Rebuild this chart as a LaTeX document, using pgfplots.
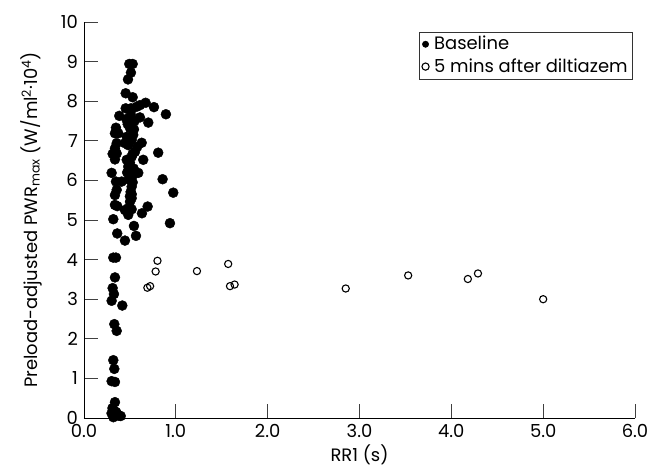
\documentclass[border=0pt]{standalone}
\usepackage{fontspec}
\setmainfont{Poppins}
\usepackage{pgfplots}
\pgfplotsset{compat=1.18}

\pgfplotstableread{
x y
0.493 8.94
0.530 8.94
0.511 8.72
0.479 8.55
0.454 8.20
0.530 8.10
0.671 7.96
0.762 7.85
0.892 7.67
0.454 7.82
0.511 7.82
0.573 7.86
0.609 7.90
0.384 7.63
0.511 7.65
0.609 7.59
0.700 7.46
0.476 7.42
0.501 7.32
0.348 7.33
0.337 7.19
0.373 7.19
0.544 7.29
0.536 7.15
0.465 7.10
0.519 7.02
0.482 6.89
0.446 6.94
0.628 6.95
0.356 6.94
0.337 6.81
0.356 6.68
0.580 6.85
0.555 6.72
0.530 6.67
0.312 6.67
0.337 6.53
0.808 6.70
0.465 6.52
0.482 6.35
0.501 6.26
0.645 6.52
0.301 6.19
0.591 6.19
0.536 6.14
0.348 5.97
0.410 5.97
0.501 6.01
0.519 5.84
0.508 5.71
0.856 6.03
0.356 5.76
0.337 5.63
0.972 5.69
0.519 5.55
0.501 5.46
0.337 5.38
0.693 5.34
0.446 5.25
0.482 5.30
0.631 5.17
0.319 5.02
0.362 5.35
0.519 5.27
0.482 5.13
0.936 4.92
0.544 4.85
0.362 4.66
0.566 4.60
0.446 4.48
0.319 4.05
0.348 4.05
0.337 3.55
0.312 3.28
0.326 3.13
0.301 2.96
0.417 2.84
0.330 2.37
0.356 2.20
0.319 1.46
0.330 1.24
0.301 0.93
0.337 0.91
0.337 0.40
0.310 0.25
0.330 0.18
0.360 0.10
0.300 0.12
0.340 0.05
0.380 0.06
0.320 0.02
0.400 0.05
0.350 0.15
0.500 6.45
0.520 6.60
0.490 6.05
0.530 5.95
0.470 6.20
0.540 6.30
0.500 5.60
0.520 5.65
0.550 7.50
0.460 7.55
0.510 7.75
}\baseline

\pgfplotstableread{
x y
0.80 3.97
0.78 3.70
0.69 3.29
0.72 3.33
1.23 3.71
1.57 3.89
1.59 3.33
1.64 3.37
2.85 3.27
3.53 3.60
4.18 3.51
4.29 3.65
5.00 3.00
}\diltiazem

\begin{document}
\fontsize{18}{21}\selectfont
\begin{tikzpicture}
% the axis box sits with its lower left corner at the origin
\useasboundingbox (-84bp,-57bp) rectangle (564bp,418bp);
\begin{axis}[
    scale only axis,
    width=551bp, height=396bp,
    xmin=0, xmax=6, ymin=0, ymax=10,
    axis x line*=bottom, axis y line*=left,
    axis line style={black, line width=0.9pt},
    xtick={0,1,...,6}, ytick={0,1,...,10},
    tick align=inside,
    major tick length=14bp,
    tick style={black!75, line width=0.9pt},
    xticklabel style={/pgf/number format/.cd, fixed, fixed zerofill, precision=1},
    /pgf/number format/assume math mode=true,
    tick label style={font=\fontsize{18}{21}\selectfont},
    label style={font=\fontsize{18}{21}\selectfont},
    xtick pos=bottom, ytick pos=left,
    xlabel={RR1 (s)},
    ylabel={Preload-adjusted PWR\textsubscript{max} (W/ml\textsuperscript{2}·10\textsuperscript{4})},
    xlabel style={yshift=5bp},
    ylabel shift=7bp,
    clip=false,
    legend style={at={(0.996,0.975)}, anchor=north east, draw=black!80,
        font=\fontsize{18}{21}\selectfont, inner xsep=3bp, inner ysep=2bp,
        row sep=2bp, /tikz/every odd column/.append style={column sep=3bp}},
    legend cell align=left,
]
\addplot[only marks, mark=*, mark size=5bp, black,
    legend image post style={mark size=3.2bp}] table[x=x,y=y]{\baseline};
\addlegendentry{Baseline}
\addplot[only marks, mark=o, mark size=3.6bp, black, line width=1.1pt] table[x=x,y=y]{\diltiazem};
\addlegendentry{5 mins after diltiazem}
\end{axis}
\end{tikzpicture}
\end{document}
